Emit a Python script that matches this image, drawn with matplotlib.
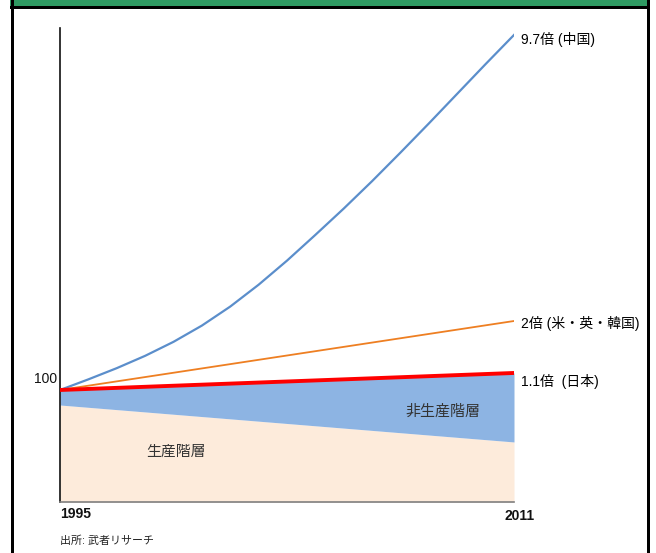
import matplotlib.pyplot as plt
from matplotlib.patches import Rectangle

plt.rcParams['font.family'] = ['Liberation Sans', 'Noto Sans CJK JP']

# chart is illustrative: values in drawing units where the start level = 100
years = [1995, 1996, 1997, 1998, 1999, 2000, 2001, 2002, 2003,
         2004, 2005, 2006, 2007, 2008, 2009, 2010, 2011]
china = [100, 109.5, 119.5, 130.5, 143, 157.5, 174.5, 194, 215.5,
         238.5, 262, 286.5, 312, 338, 364.5, 391, 417]
ends = [1995, 2011]
us_uk_korea = [100, 161.6]
japan = [100, 115.2]
productive = [86.6, 53.6]

labels = ['9.7倍 (中国)', '2倍 (米・英・韓国)', '1.1倍  (日本)']
W, H = 656, 553

fig = plt.figure(figsize=(W / 100, H / 100), dpi=100)
ax = fig.add_axes([60 / W, 1 - 502 / H, (514 - 60) / W, (502 - 28) / H])
ax.set_xlim(1995, 2011)
ax.set_ylim(0, 423.2)

ax.fill_between(ends, 0, productive, color='#FDEBDB', lw=0, zorder=1)
ax.fill_between(ends, productive, japan, color='#8DB4E3', lw=0, zorder=1)
ax.plot(years, china, color='#5B8ECB', lw=1.6, zorder=3)
ax.plot(ends, us_uk_korea, color='#EE7F22', lw=1.3, zorder=3)
ax.plot(ends, japan, color='#FF0000', lw=2.8, zorder=4)

for s in ['top', 'right']:
    ax.spines[s].set_visible(False)
ax.spines['left'].set_color('#111111')
ax.spines['left'].set_linewidth(1.2)
ax.spines['bottom'].set_color('#7F7F7F')
ax.spines['bottom'].set_linewidth(1.2)
ax.set_xticks([])
ax.set_yticks([])

ends_y = [china[-1], us_uk_korea[-1], japan[-1]]
offs = [-3, -2, -6]
for lab, yv, dy in zip(labels, ends_y, offs):
    ax.annotate(lab, (2011, yv), xytext=(5, dy), textcoords='offset points',
                ha='left', va='center', fontsize=10, color='#000000')

ax.annotate('100', (1995, 100), xytext=(-2, 8), textcoords='offset points',
            ha='right', va='center', fontsize=10, color='#111111')
ax.annotate('1995', (1995, 0), xytext=(0, -9), textcoords='offset points',
            ha='left', va='center', fontsize=10, fontweight='bold', color='#111111')
ax.annotate('2011', (2011, 0), xytext=(4, -10), textcoords='offset points',
            ha='center', va='center', fontsize=10, fontweight='bold', color='#111111')
ax.text(2008.5, 81, '非生産階層', ha='center', va='center', fontsize=10.8, color='#333333')
ax.text(1999.07, 44.6, '生産階層', ha='center', va='center', fontsize=10.7, color='#333333')
fig.text(60 / W, 1 - 541 / H, '出所: 武者リサーチ', ha='left', va='center',
         fontsize=7.9, color='#222222')

# frame: green title bar and black borders
fig.add_artist(Rectangle((10 / W, 1 - 6 / H), 640 / W, 6 / H,
                         transform=fig.transFigure, color='#2F9B63', lw=0))
fig.add_artist(Rectangle((10 / W, 1 - 8.5 / H), 640 / W, 2.5 / H,
                         transform=fig.transFigure, color='black', lw=0))
fig.add_artist(Rectangle((10.5 / W, 0), 3 / W, 1,
                         transform=fig.transFigure, color='black', lw=0))
fig.add_artist(Rectangle((647 / W, 0), 3 / W, 1,
                         transform=fig.transFigure, color='black', lw=0))

fig.savefig('out.png', dpi=100)
